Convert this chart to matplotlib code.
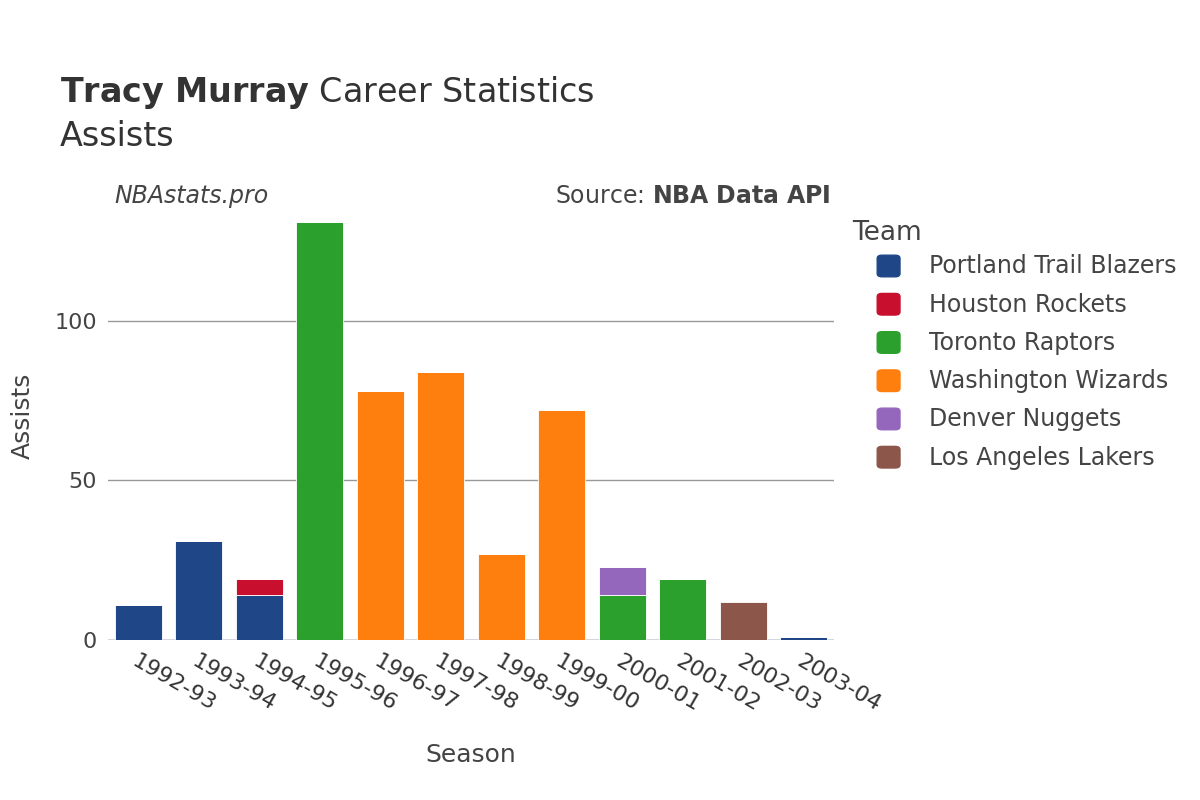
import matplotlib
matplotlib.use("Agg")
import matplotlib.pyplot as plt
from matplotlib.patches import FancyBboxPatch
import numpy as np

seasons = ["1992-93","1993-94","1994-95","1995-96","1996-97","1997-98","1998-99","1999-00","2000-01","2001-02","2002-03","2003-04"]
teams = ["Portland Trail Blazers","Houston Rockets","Toronto Raptors","Washington Wizards","Denver Nuggets","Los Angeles Lakers"]
colors = ["#1f4788","#c8102e","#2ca02c","#ff7f0e","#9467bd","#8c564b"]
values = {
    "Portland Trail Blazers": [11,31,14,0,0,0,0,0,0,0,0,1],
    "Houston Rockets":        [0,0,5,0,0,0,0,0,0,0,0,0],
    "Toronto Raptors":        [0,0,0,131,0,0,0,0,14,19,0,0],
    "Washington Wizards":     [0,0,0,0,78,84,27,72,0,0,0,0],
    "Denver Nuggets":         [0,0,0,0,0,0,0,0,9,0,0,0],
    "Los Angeles Lakers":     [0,0,0,0,0,0,0,0,0,0,12,0],
}

fig = plt.figure(figsize=(12,8), dpi=100)
ax = fig.add_axes([0.09, 0.2, 0.605, 0.56])
x = np.arange(len(seasons))
bottom = np.zeros(len(seasons))
for t, c in zip(teams, colors):
    v = np.array(values[t], dtype=float)
    ax.bar(x, v, 0.78, bottom=bottom, color=c, edgecolor="white", linewidth=0.6, label=t)
    bottom += v
ax.set_xlim(-0.5, len(seasons)-0.5)
ax.set_ylim(0, 140.4)
ax.set_yticks([0,50,100])
ax.set_yticklabels(["0","50","100"], fontsize=16, color="#444")
ax.grid(axis="y", color="#999", linewidth=1)
ax.set_axisbelow(True)
for s in ax.spines.values():
    s.set_visible(False)
ax.axhline(0, color="#dde3ef", linewidth=2, zorder=0)
ax.tick_params(length=0, pad=8)
ax.set_xticks(x)
ax.set_xticklabels(seasons, rotation=-30, ha="left", rotation_mode="anchor", fontsize=16, color="#333")
ax.set_xlabel("Season", fontsize=18, color="#444", labelpad=20)
ax.set_ylabel("Assists", fontsize=18, color="#444", labelpad=14)

fig.text(0.05, 0.872, r"$\bf{Tracy\ Murray}$ Career Statistics", fontsize=24, color="#333")
fig.text(0.05, 0.817, "Assists", fontsize=24, color="#333")
fig.text(0.095, 0.746, "NBAstats.pro", fontsize=17, style="italic", color="#444")
fig.text(0.692, 0.746, r"Source: $\bf{NBA\ Data\ API}$", fontsize=17, color="#444", ha="right")

fig.text(0.71, 0.7, "Team", fontsize=19, color="#444")
for i, (t, c) in enumerate(zip(teams, colors)):
    yy = 0.667 - i*0.0478
    fig.patches.append(FancyBboxPatch((0.731, yy-0.013), 0.019, 0.027, boxstyle="round,pad=0,rounding_size=0.004",
                                      transform=fig.transFigure, color=c))
    fig.text(0.774, yy, t, fontsize=17, color="#444", va="center")

fig.savefig("out.png")
